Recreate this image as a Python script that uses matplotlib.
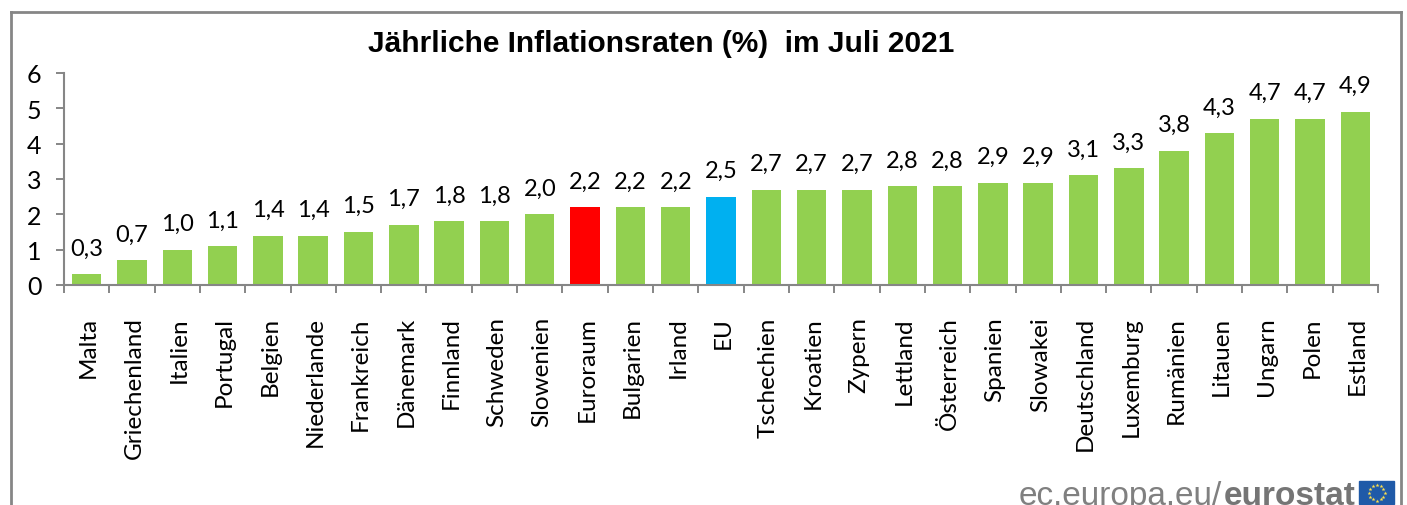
import matplotlib
matplotlib.use("Agg")
import matplotlib.pyplot as plt
import numpy as np
from matplotlib.lines import Line2D

countries = ["Malta", "Griechenland", "Italien", "Portugal", "Belgien", "Niederlande", "Frankreich",
             "Dänemark", "Finnland", "Schweden", "Slowenien", "Euroraum", "Bulgarien", "Irland", "EU",
             "Tschechien", "Kroatien", "Zypern", "Lettland", "Österreich", "Spanien", "Slowakei",
             "Deutschland", "Luxemburg", "Rumänien", "Litauen", "Ungarn", "Polen", "Estland"]
values = [0.3, 0.7, 1.0, 1.1, 1.4, 1.4, 1.5, 1.7, 1.8, 1.8, 2.0, 2.2, 2.2, 2.2, 2.5,
          2.7, 2.7, 2.7, 2.8, 2.8, 2.9, 2.9, 3.1, 3.3, 3.8, 4.3, 4.7, 4.7, 4.9]
special_colors = {"Euroraum": "#ff0000", "EU": "#00b0f0"}
yticks = [0, 1, 2, 3, 4, 5, 6]

W, H = 1407, 506
plt.rcParams["font.family"] = ["Lato", "DejaVu Sans"]

fig = plt.figure(figsize=(W / 100, H / 100), dpi=100)
ax = fig.add_axes([64 / W, 1 - 286 / H, (1378 - 64) / W, (286 - 74) / H])

colors = [special_colors.get(c, "#92d050") for c in countries]
x = range(len(countries))
ax.bar(x, values, width=0.65, color=colors)
for i, v in zip(x, values):
    ax.annotate(f"{v:.1f}".replace(".", ","), xy=(i, v), xytext=(0, 14.2), textcoords="offset points",
                ha="center", va="baseline", fontsize=17, color="black")

ax.set_xlim(-0.5, len(countries) - 0.5)
ax.set_ylim(0, 6)
ax.set_yticks(yticks)
ax.set_xticks([i - 0.5 for i in range(len(countries) + 1)])
ax.set_xticklabels([])
ax.tick_params(axis="y", labelsize=18, length=5.8, color="#868686", width=1.4, pad=10.5)
ax.tick_params(axis="x", length=5.8, color="#868686", width=1.4)
for s in ["top", "right"]:
    ax.spines[s].set_visible(False)
for s in ["left", "bottom"]:
    ax.spines[s].set_color("#868686")
    ax.spines[s].set_linewidth(1.5)

for i, c in zip(x, countries):
    ax.annotate(c, xy=(i, 0), xycoords=("data", "axes fraction"), xytext=(1.5, -22.5), textcoords="offset points",
                rotation=90, ha="center", va="top", fontsize=17.5)

fig.text(661 / W, 1 - 44 / H, "Jährliche Inflationsraten (%)  im Juli 2021", ha="center", va="center",
         fontsize=21.5, fontweight="bold", family="Liberation Sans")

# grey frame, open at the bottom
for xs, ys in [([11, 11], [506, 12.5]), ([11, 1401], [12.5, 12.5]), ([1401, 1401], [12.5, 506])]:
    fig.add_artist(Line2D([v / W for v in xs], [1 - v / H for v in ys], color="#868686", lw=2))

fig.text(1019 / W, 1 - 505 / H, "ec.europa.eu/", ha="left", va="baseline", fontsize=24,
         color="#808080", family="Liberation Sans")
fig.text(1224 / W, 1 - 505 / H, "eurostat", ha="left", va="baseline", fontsize=24, fontweight="bold",
         color="#757575", family="Liberation Sans")

# EU flag next to the logo
fig.add_artist(plt.Rectangle((1359 / W, 1 / H), 35 / W, 23 / H, transform=fig.transFigure, color="#1f5aa8"))
angles = np.arange(12) * np.pi / 6
fig.add_artist(Line2D((1376.5 + 8 * np.cos(angles)) / W, (12.5 + 8 * np.sin(angles)) / H, ls="none",
                      marker="*", ms=3, color="#ffe14d", mew=0))

fig.savefig("out.png", dpi=100)
